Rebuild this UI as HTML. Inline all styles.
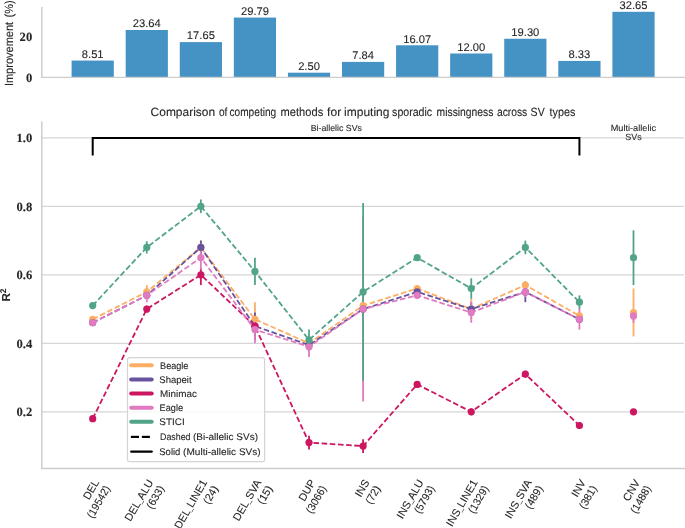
<!DOCTYPE html><html><head><meta charset="utf-8"><style>html,body{margin:0;padding:0;background:#fff;width:685px;height:528px;overflow:hidden}svg{display:block;will-change:transform}text{font-family:"Liberation Sans",sans-serif;fill:#262626;text-rendering:geometricPrecision;stroke:#262626;stroke-width:0.1px}</style></head><body>
<svg width="685" height="528" viewBox="0 0 685 528">
<line x1="41.8" y1="7" x2="41.8" y2="77.35" stroke="#cdcdcd" stroke-width="1.5"/>
<rect x="71.60" y="60.56" width="42.2" height="16.79" fill="#4592c4"/>
<text x="92.70" y="57.81" font-size="11.2" text-anchor="middle">8.51</text>
<rect x="125.68" y="30.00" width="42.2" height="47.35" fill="#4592c4"/>
<text x="146.78" y="27.25" font-size="11.2" text-anchor="middle">23.64</text>
<rect x="179.76" y="42.10" width="42.2" height="35.25" fill="#4592c4"/>
<text x="200.86" y="39.35" font-size="11.2" text-anchor="middle">17.65</text>
<rect x="233.84" y="17.57" width="42.2" height="59.78" fill="#4592c4"/>
<text x="254.94" y="14.82" font-size="11.2" text-anchor="middle">29.79</text>
<rect x="287.92" y="72.70" width="42.2" height="4.65" fill="#4592c4"/>
<text x="309.02" y="69.95" font-size="11.2" text-anchor="middle">2.50</text>
<rect x="342.00" y="61.91" width="42.2" height="15.44" fill="#4592c4"/>
<text x="363.10" y="59.16" font-size="11.2" text-anchor="middle">7.84</text>
<rect x="396.08" y="45.29" width="42.2" height="32.06" fill="#4592c4"/>
<text x="417.18" y="42.54" font-size="11.2" text-anchor="middle">16.07</text>
<rect x="450.16" y="53.51" width="42.2" height="23.84" fill="#4592c4"/>
<text x="471.26" y="50.76" font-size="11.2" text-anchor="middle">12.00</text>
<rect x="504.24" y="38.76" width="42.2" height="38.59" fill="#4592c4"/>
<text x="525.34" y="36.01" font-size="11.2" text-anchor="middle">19.30</text>
<rect x="558.32" y="60.92" width="42.2" height="16.43" fill="#4592c4"/>
<text x="579.42" y="58.17" font-size="11.2" text-anchor="middle">8.33</text>
<rect x="612.40" y="11.80" width="42.2" height="65.55" fill="#4592c4"/>
<text x="633.50" y="9.05" font-size="11.2" text-anchor="middle">32.65</text>
<line x1="41" y1="77.35" x2="685" y2="77.35" stroke="#cdcdcd" stroke-width="1.3"/>
<g style="font-family:'Liberation Serif',serif;font-weight:bold" >
<text x="32.2" y="40.90" font-size="12.6" text-anchor="end" style="font-family:'Liberation Serif',serif;font-weight:bold">20</text>
<text x="32.2" y="81.50" font-size="12.6" text-anchor="end" style="font-family:'Liberation Serif',serif;font-weight:bold">0</text>
</g>
<text transform="translate(13.3,86.1) rotate(-90) scale(1,1.07)" font-size="11">Improvement</text>
<text transform="translate(13.3,17.4) rotate(-90) scale(1,1.07)" font-size="11">(%)</text>
<line x1="41.8" y1="411.80" x2="684" y2="411.80" stroke="#d6d6d6" stroke-width="1.3"/>
<text x="32.2" y="416.00" font-size="12.6" text-anchor="end" style="font-family:'Liberation Serif',serif;font-weight:bold">0.2</text>
<line x1="41.8" y1="343.30" x2="684" y2="343.30" stroke="#d6d6d6" stroke-width="1.3"/>
<text x="32.2" y="347.50" font-size="12.6" text-anchor="end" style="font-family:'Liberation Serif',serif;font-weight:bold">0.4</text>
<line x1="41.8" y1="274.80" x2="684" y2="274.80" stroke="#d6d6d6" stroke-width="1.3"/>
<text x="32.2" y="279.00" font-size="12.6" text-anchor="end" style="font-family:'Liberation Serif',serif;font-weight:bold">0.6</text>
<line x1="41.8" y1="206.30" x2="684" y2="206.30" stroke="#d6d6d6" stroke-width="1.3"/>
<text x="32.2" y="210.50" font-size="12.6" text-anchor="end" style="font-family:'Liberation Serif',serif;font-weight:bold">0.8</text>
<line x1="41.8" y1="137.80" x2="684" y2="137.80" stroke="#d6d6d6" stroke-width="1.3"/>
<text x="32.2" y="142.00" font-size="12.6" text-anchor="end" style="font-family:'Liberation Serif',serif;font-weight:bold">1.0</text>
<line x1="41.8" y1="121.6" x2="41.8" y2="468.6" stroke="#cdcdcd" stroke-width="1.5"/>
<line x1="41" y1="468.6" x2="685" y2="468.6" stroke="#cdcdcd" stroke-width="1.5"/>
<text transform="translate(10.2,295) rotate(-90)" font-size="11.6" text-anchor="middle" font-weight="bold">R<tspan font-size="8.4" dy="-4.6">2</tspan></text>
<g transform="translate(0,116.1) scale(1,1.08)">
<text x="150.6" y="0" font-size="11.05" textLength="64.5" lengthAdjust="spacingAndGlyphs">Comparison</text>
<text x="218.9" y="0" font-size="11.05" textLength="8.5" lengthAdjust="spacingAndGlyphs">of</text>
<text x="229.5" y="0" font-size="11.05" textLength="46.7" lengthAdjust="spacingAndGlyphs">competing</text>
<text x="280.6" y="0" font-size="11.05" textLength="42.6" lengthAdjust="spacingAndGlyphs">methods</text>
<text x="327.1" y="0" font-size="11.05" textLength="14.1" lengthAdjust="spacingAndGlyphs">for</text>
<text x="344.1" y="0" font-size="11.05" textLength="45.3" lengthAdjust="spacingAndGlyphs">imputing</text>
<text x="392.1" y="0" font-size="11.05" textLength="40.0" lengthAdjust="spacingAndGlyphs">sporadic</text>
<text x="436.6" y="0" font-size="11.05" textLength="56.8" lengthAdjust="spacingAndGlyphs">missingness</text>
<text x="496.9" y="0" font-size="11.05" textLength="30.4" lengthAdjust="spacingAndGlyphs">across</text>
<text x="530.6" y="0" font-size="11.05" textLength="14.1" lengthAdjust="spacingAndGlyphs">SV</text>
<text x="549.6" y="0" font-size="11.05" textLength="25.8" lengthAdjust="spacingAndGlyphs">types</text>
</g>
<path d="M92.70,155.5 L92.70,138 L579.42,138 L579.42,155.5" fill="none" stroke="#000" stroke-width="2"/>
<text x="336.3" y="130.8" font-size="8.8" text-anchor="middle">Bi-allelic SVs</text>
<text x="610.7" y="130.8" font-size="9" textLength="45.4" lengthAdjust="spacingAndGlyphs">Multi-allelic</text>
<text x="633.50" y="139.5" font-size="9" text-anchor="middle">SVs</text>
<line x1="146.78" y1="285.07" x2="146.78" y2="298.77" stroke="#fcae64" stroke-width="1.8"/>
<line x1="200.86" y1="240.55" x2="200.86" y2="254.25" stroke="#fcae64" stroke-width="1.8"/>
<line x1="254.94" y1="302.20" x2="254.94" y2="336.45" stroke="#fcae64" stroke-width="1.8"/>
<line x1="309.02" y1="339.88" x2="309.02" y2="346.73" stroke="#fcae64" stroke-width="1.8"/>
<line x1="363.10" y1="298.77" x2="363.10" y2="312.48" stroke="#fcae64" stroke-width="1.8"/>
<line x1="417.18" y1="285.07" x2="417.18" y2="291.92" stroke="#fcae64" stroke-width="1.8"/>
<line x1="471.26" y1="298.77" x2="471.26" y2="319.33" stroke="#fcae64" stroke-width="1.8"/>
<line x1="525.34" y1="281.65" x2="525.34" y2="288.50" stroke="#fcae64" stroke-width="1.8"/>
<line x1="579.42" y1="312.48" x2="579.42" y2="319.33" stroke="#fcae64" stroke-width="1.8"/>
<line x1="633.50" y1="288.50" x2="633.50" y2="336.45" stroke="#fcae64" stroke-width="1.8"/>
<line x1="146.78" y1="291.92" x2="146.78" y2="298.77" stroke="#6753a0" stroke-width="1.8"/>
<line x1="200.86" y1="240.55" x2="200.86" y2="254.25" stroke="#6753a0" stroke-width="1.8"/>
<line x1="254.94" y1="312.48" x2="254.94" y2="339.88" stroke="#6753a0" stroke-width="1.8"/>
<line x1="309.02" y1="341.59" x2="309.02" y2="348.44" stroke="#6753a0" stroke-width="1.8"/>
<line x1="363.10" y1="302.20" x2="363.10" y2="315.90" stroke="#6753a0" stroke-width="1.8"/>
<line x1="417.18" y1="288.50" x2="417.18" y2="295.35" stroke="#6753a0" stroke-width="1.8"/>
<line x1="471.26" y1="302.20" x2="471.26" y2="315.90" stroke="#6753a0" stroke-width="1.8"/>
<line x1="525.34" y1="281.65" x2="525.34" y2="302.20" stroke="#6753a0" stroke-width="1.8"/>
<line x1="579.42" y1="315.90" x2="579.42" y2="322.75" stroke="#6753a0" stroke-width="1.8"/>
<line x1="146.78" y1="305.62" x2="146.78" y2="312.48" stroke="#cd1661" stroke-width="1.8"/>
<line x1="200.86" y1="267.95" x2="200.86" y2="285.08" stroke="#cd1661" stroke-width="1.8"/>
<line x1="254.94" y1="319.33" x2="254.94" y2="333.03" stroke="#cd1661" stroke-width="1.8"/>
<line x1="309.02" y1="435.78" x2="309.02" y2="449.48" stroke="#cd1661" stroke-width="1.8"/>
<line x1="363.10" y1="439.20" x2="363.10" y2="452.90" stroke="#cd1661" stroke-width="1.8"/>
<line x1="417.18" y1="380.98" x2="417.18" y2="387.83" stroke="#cd1661" stroke-width="1.8"/>
<line x1="471.26" y1="408.38" x2="471.26" y2="415.23" stroke="#cd1661" stroke-width="1.8"/>
<line x1="525.34" y1="370.70" x2="525.34" y2="377.55" stroke="#cd1661" stroke-width="1.8"/>
<line x1="579.42" y1="422.07" x2="579.42" y2="428.93" stroke="#cd1661" stroke-width="1.8"/>
<line x1="92.70" y1="319.33" x2="92.70" y2="326.18" stroke="#e07ac1" stroke-width="1.8"/>
<line x1="146.78" y1="288.50" x2="146.78" y2="302.20" stroke="#e07ac1" stroke-width="1.8"/>
<line x1="200.86" y1="245.69" x2="200.86" y2="269.66" stroke="#e07ac1" stroke-width="1.8"/>
<line x1="254.94" y1="315.90" x2="254.94" y2="343.30" stroke="#e07ac1" stroke-width="1.8"/>
<line x1="309.02" y1="336.45" x2="309.02" y2="357.00" stroke="#e07ac1" stroke-width="1.8"/>
<line x1="363.10" y1="216.57" x2="363.10" y2="401.53" stroke="#e07ac1" stroke-width="1.8"/>
<line x1="417.18" y1="291.92" x2="417.18" y2="298.77" stroke="#e07ac1" stroke-width="1.8"/>
<line x1="471.26" y1="302.20" x2="471.26" y2="322.75" stroke="#e07ac1" stroke-width="1.8"/>
<line x1="525.34" y1="286.79" x2="525.34" y2="297.06" stroke="#e07ac1" stroke-width="1.8"/>
<line x1="579.42" y1="309.05" x2="579.42" y2="329.60" stroke="#e07ac1" stroke-width="1.8"/>
<line x1="633.50" y1="309.05" x2="633.50" y2="322.75" stroke="#e07ac1" stroke-width="1.8"/>
<line x1="146.78" y1="241.23" x2="146.78" y2="253.56" stroke="#51a48a" stroke-width="1.8"/>
<line x1="200.86" y1="199.45" x2="200.86" y2="213.15" stroke="#51a48a" stroke-width="1.8"/>
<line x1="254.94" y1="257.68" x2="254.94" y2="285.08" stroke="#51a48a" stroke-width="1.8"/>
<line x1="309.02" y1="329.60" x2="309.02" y2="350.15" stroke="#51a48a" stroke-width="1.8"/>
<line x1="363.10" y1="202.88" x2="363.10" y2="380.98" stroke="#51a48a" stroke-width="1.8"/>
<line x1="417.18" y1="255.96" x2="417.18" y2="259.39" stroke="#51a48a" stroke-width="1.8"/>
<line x1="471.26" y1="278.23" x2="471.26" y2="298.77" stroke="#51a48a" stroke-width="1.8"/>
<line x1="525.34" y1="240.55" x2="525.34" y2="254.25" stroke="#51a48a" stroke-width="1.8"/>
<line x1="579.42" y1="295.35" x2="579.42" y2="309.05" stroke="#51a48a" stroke-width="1.8"/>
<line x1="633.50" y1="230.28" x2="633.50" y2="285.07" stroke="#51a48a" stroke-width="1.8"/>
<polyline points="92.70,319.33 146.78,291.92 200.86,247.40 254.94,319.33 309.02,343.30 363.10,305.62 417.18,288.50 471.26,309.05 525.34,285.08 579.42,315.90" fill="none" stroke="#fcae64" stroke-width="1.8" stroke-dasharray="5.6 2.6"/>
<circle cx="92.70" cy="319.33" r="3.6" fill="#fcae64"/>
<circle cx="146.78" cy="291.92" r="3.6" fill="#fcae64"/>
<circle cx="200.86" cy="247.40" r="3.6" fill="#fcae64"/>
<circle cx="254.94" cy="319.33" r="3.6" fill="#fcae64"/>
<circle cx="309.02" cy="343.30" r="3.6" fill="#fcae64"/>
<circle cx="363.10" cy="305.62" r="3.6" fill="#fcae64"/>
<circle cx="417.18" cy="288.50" r="3.6" fill="#fcae64"/>
<circle cx="471.26" cy="309.05" r="3.6" fill="#fcae64"/>
<circle cx="525.34" cy="285.08" r="3.6" fill="#fcae64"/>
<circle cx="579.42" cy="315.90" r="3.6" fill="#fcae64"/>
<circle cx="633.50" cy="312.48" r="3.6" fill="#fcae64"/>
<polyline points="92.70,322.75 146.78,295.35 200.86,247.40 254.94,326.18 309.02,345.01 363.10,309.05 417.18,291.92 471.26,309.05 525.34,291.92 579.42,319.33" fill="none" stroke="#6753a0" stroke-width="1.8" stroke-dasharray="5.6 2.6"/>
<circle cx="92.70" cy="322.75" r="3.6" fill="#6753a0"/>
<circle cx="146.78" cy="295.35" r="3.6" fill="#6753a0"/>
<circle cx="200.86" cy="247.40" r="3.6" fill="#6753a0"/>
<circle cx="254.94" cy="326.18" r="3.6" fill="#6753a0"/>
<circle cx="309.02" cy="345.01" r="3.6" fill="#6753a0"/>
<circle cx="363.10" cy="309.05" r="3.6" fill="#6753a0"/>
<circle cx="417.18" cy="291.92" r="3.6" fill="#6753a0"/>
<circle cx="471.26" cy="309.05" r="3.6" fill="#6753a0"/>
<circle cx="525.34" cy="291.92" r="3.6" fill="#6753a0"/>
<circle cx="579.42" cy="319.33" r="3.6" fill="#6753a0"/>
<polyline points="92.70,418.65 146.78,309.05 200.86,274.80 254.94,326.18 309.02,442.62 363.10,446.05 417.18,384.40 471.26,411.80 525.34,374.12 579.42,425.50" fill="none" stroke="#cd1661" stroke-width="1.8" stroke-dasharray="5.6 2.6"/>
<circle cx="92.70" cy="418.65" r="3.6" fill="#cd1661"/>
<circle cx="146.78" cy="309.05" r="3.6" fill="#cd1661"/>
<circle cx="200.86" cy="274.80" r="3.6" fill="#cd1661"/>
<circle cx="254.94" cy="326.18" r="3.6" fill="#cd1661"/>
<circle cx="309.02" cy="442.62" r="3.6" fill="#cd1661"/>
<circle cx="363.10" cy="446.05" r="3.6" fill="#cd1661"/>
<circle cx="417.18" cy="384.40" r="3.6" fill="#cd1661"/>
<circle cx="471.26" cy="411.80" r="3.6" fill="#cd1661"/>
<circle cx="525.34" cy="374.12" r="3.6" fill="#cd1661"/>
<circle cx="579.42" cy="425.50" r="3.6" fill="#cd1661"/>
<circle cx="633.50" cy="411.80" r="3.6" fill="#cd1661"/>
<polyline points="92.70,322.75 146.78,295.35 200.86,257.68 254.94,329.60 309.02,346.73 363.10,309.05 417.18,295.35 471.26,312.48 525.34,291.92 579.42,319.33" fill="none" stroke="#e07ac1" stroke-width="1.8" stroke-dasharray="5.6 2.6"/>
<circle cx="92.70" cy="322.75" r="3.6" fill="#e07ac1"/>
<circle cx="146.78" cy="295.35" r="3.6" fill="#e07ac1"/>
<circle cx="200.86" cy="257.68" r="3.6" fill="#e07ac1"/>
<circle cx="254.94" cy="329.60" r="3.6" fill="#e07ac1"/>
<circle cx="309.02" cy="346.73" r="3.6" fill="#e07ac1"/>
<circle cx="363.10" cy="309.05" r="3.6" fill="#e07ac1"/>
<circle cx="417.18" cy="295.35" r="3.6" fill="#e07ac1"/>
<circle cx="471.26" cy="312.48" r="3.6" fill="#e07ac1"/>
<circle cx="525.34" cy="291.92" r="3.6" fill="#e07ac1"/>
<circle cx="579.42" cy="319.33" r="3.6" fill="#e07ac1"/>
<circle cx="633.50" cy="315.90" r="3.6" fill="#e07ac1"/>
<polyline points="92.70,305.62 146.78,247.40 200.86,206.30 254.94,271.38 309.02,339.88 363.10,291.92 417.18,257.68 471.26,288.50 525.34,247.40 579.42,302.20" fill="none" stroke="#51a48a" stroke-width="1.8" stroke-dasharray="5.6 2.6"/>
<circle cx="92.70" cy="305.62" r="3.6" fill="#51a48a"/>
<circle cx="146.78" cy="247.40" r="3.6" fill="#51a48a"/>
<circle cx="200.86" cy="206.30" r="3.6" fill="#51a48a"/>
<circle cx="254.94" cy="271.38" r="3.6" fill="#51a48a"/>
<circle cx="309.02" cy="339.88" r="3.6" fill="#51a48a"/>
<circle cx="363.10" cy="291.92" r="3.6" fill="#51a48a"/>
<circle cx="417.18" cy="257.68" r="3.6" fill="#51a48a"/>
<circle cx="471.26" cy="288.50" r="3.6" fill="#51a48a"/>
<circle cx="525.34" cy="247.40" r="3.6" fill="#51a48a"/>
<circle cx="579.42" cy="302.20" r="3.6" fill="#51a48a"/>
<circle cx="633.50" cy="257.68" r="3.6" fill="#51a48a"/>
<rect x="127.5" y="357.7" width="137.1" height="104" rx="2.2" fill="#fff" fill-opacity="0.8" stroke="#d4d4d4" stroke-width="1.2"/>
<line x1="131.2" y1="365.3" x2="151.7" y2="365.3" stroke="#fcae64" stroke-width="4" stroke-linecap="round"/>
<text x="160.1" y="368.75" font-size="9.6" textLength="28.3" lengthAdjust="spacingAndGlyphs">Beagle</text>
<line x1="131.2" y1="379.6" x2="151.7" y2="379.6" stroke="#6753a0" stroke-width="4" stroke-linecap="round"/>
<text x="159.3" y="383.05" font-size="9.6" textLength="32.3" lengthAdjust="spacingAndGlyphs">Shapeit</text>
<line x1="131.2" y1="393.6" x2="151.7" y2="393.6" stroke="#cd1661" stroke-width="4" stroke-linecap="round"/>
<text x="160.1" y="397.05" font-size="9.6" textLength="36.8" lengthAdjust="spacingAndGlyphs">Minimac</text>
<line x1="131.2" y1="407.8" x2="151.7" y2="407.8" stroke="#e07ac1" stroke-width="4" stroke-linecap="round"/>
<text x="159.6" y="411.25" font-size="9.6" textLength="23.5" lengthAdjust="spacingAndGlyphs">Eagle</text>
<line x1="131.2" y1="421.8" x2="151.7" y2="421.8" stroke="#51a48a" stroke-width="4" stroke-linecap="round"/>
<text x="159.3" y="425.25" font-size="9.6" textLength="25.4" lengthAdjust="spacingAndGlyphs">STICI</text>
<line x1="130.9" y1="436.9" x2="139" y2="436.9" stroke="#000" stroke-width="2.2"/><line x1="141.9" y1="436.9" x2="149.9" y2="436.9" stroke="#000" stroke-width="2.2"/>
<text x="160.1" y="440.35" font-size="9.6" textLength="30.4" lengthAdjust="spacingAndGlyphs">Dashed</text>
<text x="193.0" y="440.35" font-size="9.6" textLength="65.0" lengthAdjust="spacingAndGlyphs">(Bi-allelic SVs)</text>
<line x1="131.3" y1="451.6" x2="151.6" y2="451.6" stroke="#000" stroke-width="2.4" stroke-linecap="round"/>
<text x="159.3" y="455.05" font-size="9.6" textLength="21.1" lengthAdjust="spacingAndGlyphs">Solid</text>
<text x="183.1" y="455.05" font-size="9.6" textLength="77.6" lengthAdjust="spacingAndGlyphs">(Multi-allelic SVs)</text>
<text transform="translate(92.10,478) rotate(-60)" font-size="10.8" text-anchor="end"><tspan x="0" dy="8.5">DEL</tspan></text>
<text transform="translate(92.10,478) rotate(-60)" font-size="10.8" text-anchor="end" x="0.3" y="21.1" textLength="35.6" lengthAdjust="spacingAndGlyphs">(19542)</text>
<text transform="translate(146.18,478) rotate(-60)" font-size="10.8" text-anchor="end"><tspan x="0" dy="8.5">DEL<tspan font-size='7'>_</tspan>ALU</tspan></text>
<text transform="translate(146.18,478) rotate(-60)" font-size="10.8" text-anchor="end" x="0.3" y="21.1" textLength="24.7" lengthAdjust="spacingAndGlyphs">(633)</text>
<text transform="translate(200.26,478) rotate(-60)" font-size="10.8" text-anchor="end"><tspan x="0" dy="8.5">DEL<tspan font-size='7'>_</tspan>LINE1</tspan></text>
<text transform="translate(200.26,478) rotate(-60)" font-size="10.8" text-anchor="end" x="0.3" y="21.1" textLength="19.3" lengthAdjust="spacingAndGlyphs">(24)</text>
<text transform="translate(254.34,478) rotate(-60)" font-size="10.8" text-anchor="end"><tspan x="0" dy="8.5">DEL<tspan font-size='7'>_</tspan>SVA</tspan></text>
<text transform="translate(254.34,478) rotate(-60)" font-size="10.8" text-anchor="end" x="0.3" y="21.1" textLength="19.3" lengthAdjust="spacingAndGlyphs">(15)</text>
<text transform="translate(308.42,478) rotate(-60)" font-size="10.8" text-anchor="end"><tspan x="0" dy="8.5">DUP</tspan></text>
<text transform="translate(308.42,478) rotate(-60)" font-size="10.8" text-anchor="end" x="0.3" y="21.1" textLength="30.1" lengthAdjust="spacingAndGlyphs">(3066)</text>
<text transform="translate(362.50,478) rotate(-60)" font-size="10.8" text-anchor="end"><tspan x="0" dy="8.5">INS</tspan></text>
<text transform="translate(362.50,478) rotate(-60)" font-size="10.8" text-anchor="end" x="0.3" y="21.1" textLength="19.3" lengthAdjust="spacingAndGlyphs">(72)</text>
<text transform="translate(416.58,478) rotate(-60)" font-size="10.8" text-anchor="end"><tspan x="0" dy="8.5">INS<tspan font-size='7'>_</tspan>ALU</tspan></text>
<text transform="translate(416.58,478) rotate(-60)" font-size="10.8" text-anchor="end" x="0.3" y="21.1" textLength="30.1" lengthAdjust="spacingAndGlyphs">(5793)</text>
<text transform="translate(470.66,478) rotate(-60)" font-size="10.8" text-anchor="end"><tspan x="0" dy="8.5">INS<tspan font-size='7'>_</tspan>LINE1</tspan></text>
<text transform="translate(470.66,478) rotate(-60)" font-size="10.8" text-anchor="end" x="0.3" y="21.1" textLength="30.1" lengthAdjust="spacingAndGlyphs">(1329)</text>
<text transform="translate(524.74,478) rotate(-60)" font-size="10.8" text-anchor="end"><tspan x="0" dy="8.5">INS<tspan font-size='7'>_</tspan>SVA</tspan></text>
<text transform="translate(524.74,478) rotate(-60)" font-size="10.8" text-anchor="end" x="0.3" y="21.1" textLength="24.7" lengthAdjust="spacingAndGlyphs">(489)</text>
<text transform="translate(578.82,478) rotate(-60)" font-size="10.8" text-anchor="end"><tspan x="0" dy="8.5">INV</tspan></text>
<text transform="translate(578.82,478) rotate(-60)" font-size="10.8" text-anchor="end" x="0.3" y="21.1" textLength="24.7" lengthAdjust="spacingAndGlyphs">(381)</text>
<text transform="translate(632.90,478) rotate(-60)" font-size="10.8" text-anchor="end"><tspan x="0" dy="8.5">CNV</tspan></text>
<text transform="translate(632.90,478) rotate(-60)" font-size="10.8" text-anchor="end" x="0.3" y="21.1" textLength="30.1" lengthAdjust="spacingAndGlyphs">(1488)</text>
</svg></body></html>
